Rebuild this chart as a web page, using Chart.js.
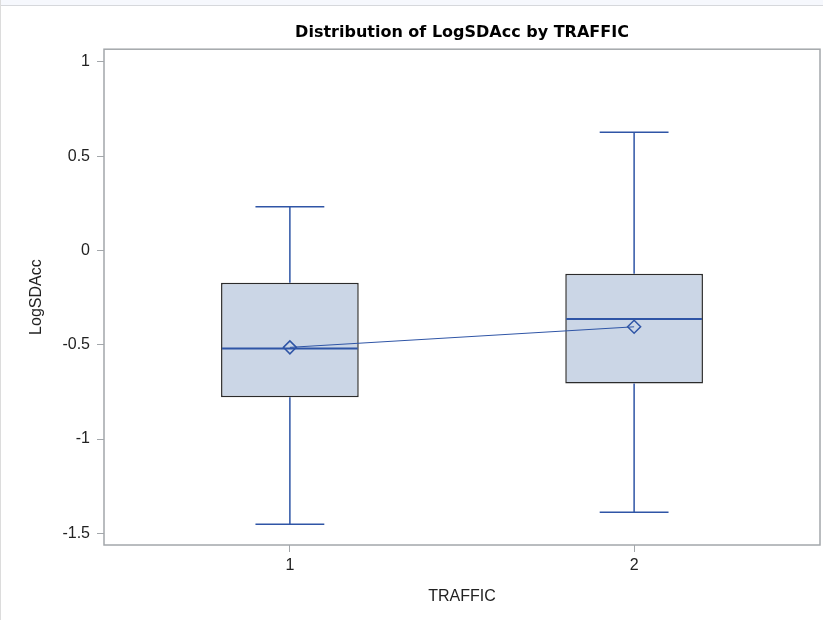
<!DOCTYPE html>
<html>
<head>
<meta charset="utf-8">
<script src="https://cdn.jsdelivr.net/npm/chart.js@4"></script>
<style>
  html, body { margin: 0; padding: 0; background: #ffffff; }
  #wrap { position: relative; width: 823px; height: 620px; }
  #topStrip { position: absolute; left: 0; top: 0; width: 823px; height: 5px; background: #f6f8fd; border-bottom: 1px solid #d6d8dc; }
  #leftEdge { position: absolute; left: 0; top: 0; width: 1px; height: 620px; background: #dcdcdc; }
</style>
</head>
<body>
<div id="wrap">
  <canvas id="chartCanvas" width="823" height="620"></canvas>
  <div id="topStrip"></div>
  <div id="leftEdge"></div>
</div>
<script>
// Box plot statistics
const categories = [1, 2];
const whiskerLow = [-1.452, -1.389];
const q1Values = [-0.778, -0.705];
const medianValues = [-0.520, -0.363];
const q3Values = [-0.172, -0.124];
const whiskerHigh = [0.231, 0.626];
const meanValues = [-0.514, -0.405];
const yTicks = [-1.5, -1, -0.5, 0, 0.5, 1];

const blue = '#2f55a6';
const axisGray = '#a3a7ab';
const labelFont = 'Liberation Sans, Arial, sans-serif';

// whiskers, caps and medians drawn through the chart's scales
const boxExtras = {
    id: 'boxExtras',
    afterDatasetsDraw(chart) {
        const ctx = chart.ctx;
        const x = chart.scales.x;
        const y = chart.scales.y;
        const boxMeta = chart.getDatasetMeta(0);
        ctx.save();
        categories.forEach((cat, i) => {
            const cx = x.getPixelForValue(cat);
            const halfBox = boxMeta.data[i].width / 2;
            const halfCap = halfBox / 2;
            ctx.strokeStyle = blue;
            ctx.lineWidth = 1.5;
            // lower whisker
            ctx.beginPath();
            ctx.moveTo(cx, y.getPixelForValue(q1Values[i]));
            ctx.lineTo(cx, y.getPixelForValue(whiskerLow[i]));
            ctx.moveTo(cx - halfCap, y.getPixelForValue(whiskerLow[i]));
            ctx.lineTo(cx + halfCap, y.getPixelForValue(whiskerLow[i]));
            // upper whisker
            ctx.moveTo(cx, y.getPixelForValue(q3Values[i]));
            ctx.lineTo(cx, y.getPixelForValue(whiskerHigh[i]));
            ctx.moveTo(cx - halfCap, y.getPixelForValue(whiskerHigh[i]));
            ctx.lineTo(cx + halfCap, y.getPixelForValue(whiskerHigh[i]));
            ctx.stroke();
            // median
            ctx.beginPath();
            ctx.lineWidth = 2;
            ctx.moveTo(cx - halfBox + 1, y.getPixelForValue(medianValues[i]));
            ctx.lineTo(cx + halfBox - 1, y.getPixelForValue(medianValues[i]));
            ctx.stroke();
        });
        // frame around the plot area
        const a = chart.chartArea;
        ctx.strokeStyle = axisGray;
        ctx.lineWidth = 1.5;
        ctx.strokeRect(a.left, a.top, a.right - a.left, a.bottom - a.top);
        ctx.restore();
    }
};

const chartCanvas = document.getElementById('chartCanvas');

new Chart(chartCanvas, {
    type: 'bar',
    data: {
        datasets: [
            {
                type: 'bar',
                data: categories.map((c, i) => ({ x: c, y: [q1Values[i], q3Values[i]] })),
                backgroundColor: '#cbd6e6',
                borderColor: '#2b2b2b',
                borderWidth: 1.5,
                borderSkipped: false,
                categoryPercentage: 0.4,
                barPercentage: 1,
                order: 2
            },
            {
                type: 'line',
                data: categories.map((c, i) => ({ x: c, y: meanValues[i] })),
                borderColor: blue,
                borderWidth: 1,
                pointStyle: 'rectRot',
                pointRadius: 6.5,
                pointBorderWidth: 1.5,
                pointBackgroundColor: 'rgba(0,0,0,0)',
                pointBorderColor: blue,
                order: 1
            }
        ]
    },
    options: {
        responsive: false,
        animation: false,
        layout: { autoPadding: false, padding: { top: 0, right: 3, bottom: 0, left: 0 } },
        plugins: {
            legend: { display: false },
            tooltip: { enabled: false },
            title: {
                display: true,
                fullSize: false,
                text: 'Distribution of LogSDAcc by TRAFFIC',
                color: '#000',
                font: { family: 'DejaVu Sans, sans-serif', size: 16, weight: 'bold' },
                padding: { top: 23, bottom: 7 }
            }
        },
        scales: {
            x: {
                type: 'linear',
                offset: false,
                min: 0.46,
                max: 2.54,
                afterBuildTicks: scale => { scale.ticks = categories.map(v => ({ value: v })); },
                afterFit: scale => {
                    scale.height = 75;
                    scale.paddingLeft = 0;
                    scale.paddingRight = 0;
                },
                grid: { offset: false, drawOnChartArea: false, drawTicks: true, tickLength: 7, color: axisGray },
                border: { display: false },
                ticks: {
                    color: '#222',
                    padding: 4,
                    font: { family: labelFont, size: 16 },
                    callback: v => String(v)
                },
                title: {
                    display: true,
                    text: 'TRAFFIC',
                    color: '#222',
                    font: { family: labelFont, size: 16 },
                    padding: { top: 4, bottom: 14 }
                }
            },
            y: {
                min: -1.562,
                max: 1.067,
                afterBuildTicks: scale => { scale.ticks = yTicks.map(v => ({ value: v })); },
                afterFit: scale => { scale.width = 104; },
                grid: { drawOnChartArea: false, drawTicks: true, tickLength: 7, color: axisGray },
                border: { display: false },
                ticks: {
                    color: '#222',
                    padding: 7,
                    font: { family: labelFont, size: 16 },
                    callback: v => String(v)
                },
                title: {
                    display: true,
                    text: 'LogSDAcc',
                    color: '#222',
                    font: { family: labelFont, size: 16 },
                    padding: { top: 27, bottom: 0 }
                }
            }
        }
    },
    plugins: [boxExtras]
});
</script>
</body>
</html>
